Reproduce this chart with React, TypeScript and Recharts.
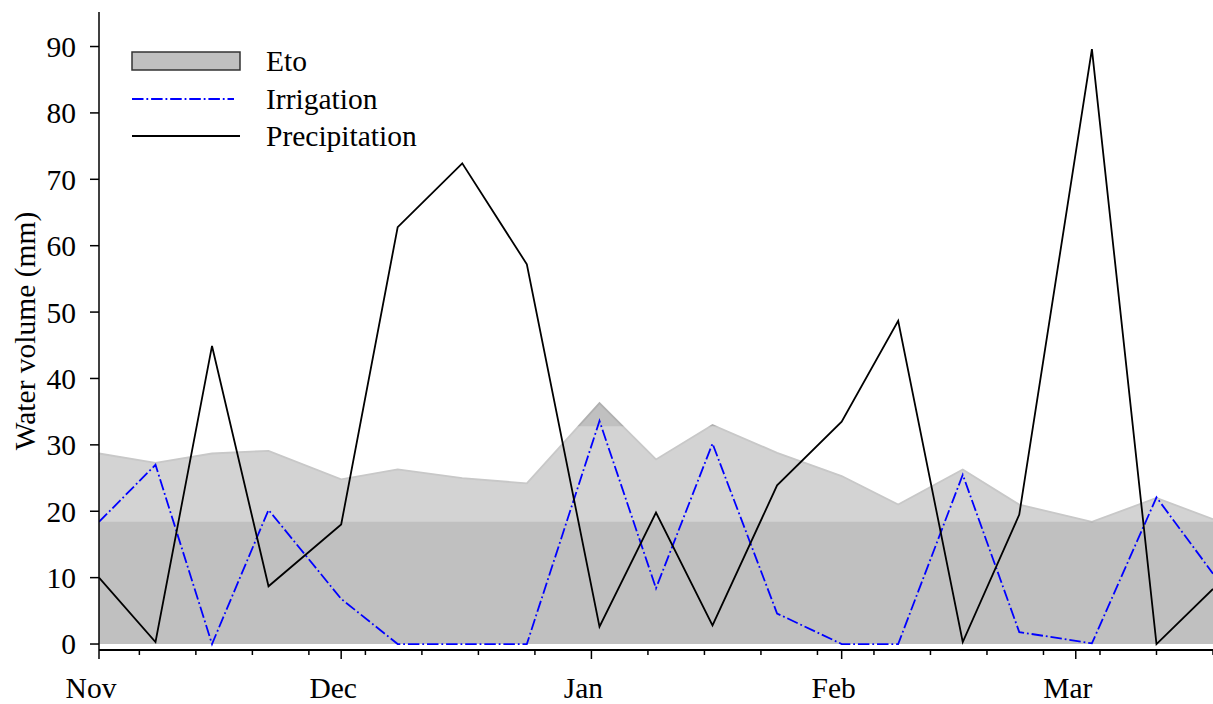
import { ComposedChart, Area, Line, XAxis, YAxis, Legend, ReferenceArea } from "recharts"

// sampling dates of the season (Nov 2023 - Mar 2024)
const sampleDates = [
  "2023-11-01", "2023-11-08", "2023-11-15", "2023-11-22", "2023-12-01", "2023-12-08", "2023-12-16",
  "2023-12-24", "2024-01-02", "2024-01-09", "2024-01-16", "2024-01-24", "2024-02-01", "2024-02-08",
  "2024-02-16", "2024-02-23", "2024-03-03", "2024-03-11", "2024-03-18",
]
const eto = [28.7, 27.3, 28.7, 29.1, 24.8, 26.3, 25.0, 24.2, 36.3, 27.8, 33.0, 28.8, 25.3, 21.0, 26.3, 21.0, 18.4, 22.0, 18.8]
const irrigation = [18.4, 27.0, 0, 20.2, 6.8, 0, 0, 0, 33.6, 8.4, 30.2, 4.6, 0, 0, 25.5, 1.8, 0.1, 22.1, 10.6]
const precipitation = [10.0, 0.3, 44.9, 8.7, 18.0, 62.8, 72.4, 57.2, 2.6, 19.8, 2.8, 23.9, 33.5, 48.7, 0.3, 19.5, 89.6, 0.0, 8.3]

const monthStarts = ["2023-11-01", "2023-12-01", "2024-01-01", "2024-02-01", "2024-03-01"]
const monthLabels = ["Nov", "Dec", "Jan", "Feb", "Mar"]
const yTicks = [0, 10, 20, 30, 40, 50, 60, 70, 80, 90]
const axisStart = "2023-11-01"
const axisEnd = "2024-03-18"
const firstMonday = "2023-11-06"
const shadeBand = [18.4, 32.8]

const DAY = 86400000
const toTime = (d: string) => Date.parse(d + "T00:00:00Z")

const data = sampleDates.map((d, i) => ({
  t: toTime(d),
  eto: eto[i],
  irrigation: irrigation[i],
  precipitation: precipitation[i],
}))

const monthTicks = monthStarts.map(toTime)
const weekTicks: number[] = []
for (let t = toTime(firstMonday); t <= toTime(axisEnd); t += 7 * DAY) weekTicks.push(t)
// month starts get long ticks + label, mondays get short ticks
const allTicks = Array.from(new Set([...monthTicks, ...weekTicks])).sort((a, b) => a - b)

const xDomain = [toTime(axisStart), toTime(axisEnd)]
const FONT = "'Liberation Serif', 'Times New Roman', serif"
const FS = 29.5
const DASH_DOT = "11.5 2.9 1.8 2.9"

function LegendBox() {
  return (
    <svg width={440} height={170} style={{ fontFamily: FONT, fontSize: FS }}>
      <rect x={132} y={52} width={108} height={18} fill="#c0c0c0" stroke="#333" strokeWidth={1.5} />
      <text x={266} y={71} fill="#000">Eto</text>
      <line x1={132} y1={99} x2={234} y2={99} stroke="#0000ff" strokeWidth={1.8} strokeDasharray={DASH_DOT} />
      <text x={266} y={109} fill="#000">Irrigation</text>
      <line x1={132} y1={136} x2={240} y2={136} stroke="#000" strokeWidth={1.8} />
      <text x={266} y={146} fill="#000">Precipitation</text>
    </svg>
  )
}

function DateTick(props: any) {
  const { x, y, payload } = props
  const idx = monthTicks.indexOf(payload.value)
  const major = idx >= 0
  return (
    <g>
      <line x1={x} y1={y} x2={x} y2={y + (major ? 9 : 5)} stroke="#000" strokeWidth={1.5} />
      {major && (
        <text x={x - 8} y={y + 27} dy="0.71em" textAnchor="middle" fill="#000" style={{ fontFamily: FONT, fontSize: FS }}>
          {monthLabels[idx]}
        </text>
      )}
    </g>
  )
}

export default function App() {
  return (
    <div style={{ position: "absolute", left: 0, top: 0, width: 1213, height: 704, background: "#fff" }}>
      <ComposedChart width={1213} height={704} data={data} margin={{ top: 12, right: 0, bottom: 0, left: 0 }}>
        <XAxis
          xAxisId="top"
          orientation="top"
          dataKey="t"
          type="number"
          domain={xDomain}
          allowDataOverflow
          height={0}
          tick={false}
          tickLine={false}
          axisLine={{ stroke: "#000", strokeWidth: 1.5 }}
        />
        <XAxis
          xAxisId="date"
          dataKey="t"
          type="number"
          domain={xDomain}
          allowDataOverflow
          ticks={allTicks}
          interval={0}
          height={54}
          tickSize={0}
          tickMargin={0}
          tick={<DateTick />}
          tickLine={false}
          axisLine={{ stroke: "#000", strokeWidth: 2 }}
        />
        <YAxis
          width={99}
          type="number"
          domain={[-0.9, 95.2]}
          allowDataOverflow
          ticks={yTicks}
          interval={0}
          tickSize={9}
          tickMargin={14}
          tick={{ fill: "#000", fontSize: FS, fontFamily: FONT }}
          tickLine={{ stroke: "#000", strokeWidth: 1.5 }}
          axisLine={{ stroke: "#000", strokeWidth: 1.5 }}
          label={{
            content: (props: any) => {
              const vb = props.viewBox || { y: 12, height: 638 }
              const cy = vb.y + vb.height / 2
              return (
                <text
                  x={25}
                  y={cy}
                  transform={`rotate(-90, 25, ${cy})`}
                  textAnchor="middle"
                  dominantBaseline="central"
                  fill="#000"
                  style={{ fontFamily: FONT, fontSize: FS }}
                >
                  Water volume (mm)
                </text>
              )
            },
          }}
        />
        <Area
          xAxisId="date"
          type="linear"
          dataKey="eto"
          name="Eto"
          fill="#c0c0c0"
          fillOpacity={1}
          stroke="#b0b0b0"
          strokeWidth={1.8}
          dot={false}
          activeDot={false}
          isAnimationActive={false}
        />
        <ReferenceArea
          xAxisId="date"
          y1={shadeBand[0]}
          y2={shadeBand[1]}
          fill="#ffffff"
          fillOpacity={0.3}
          stroke="none"
        />
        <Line
          xAxisId="date"
          type="linear"
          dataKey="irrigation"
          name="Irrigation"
          stroke="#0000ff"
          strokeWidth={1.8}
          strokeDasharray={DASH_DOT}
          dot={false}
          activeDot={false}
          isAnimationActive={false}
        />
        <Line
          xAxisId="date"
          type="linear"
          dataKey="precipitation"
          name="Precipitation"
          stroke="#000"
          strokeWidth={1.8}
          dot={false}
          activeDot={false}
          isAnimationActive={false}
        />
        <Legend
          layout="horizontal"
          verticalAlign="middle"
          align="center"
          wrapperStyle={{ left: 0, top: 0, width: 440, height: 170 }}
          content={() => <LegendBox />}
        />
      </ComposedChart>
    </div>
  )
}
